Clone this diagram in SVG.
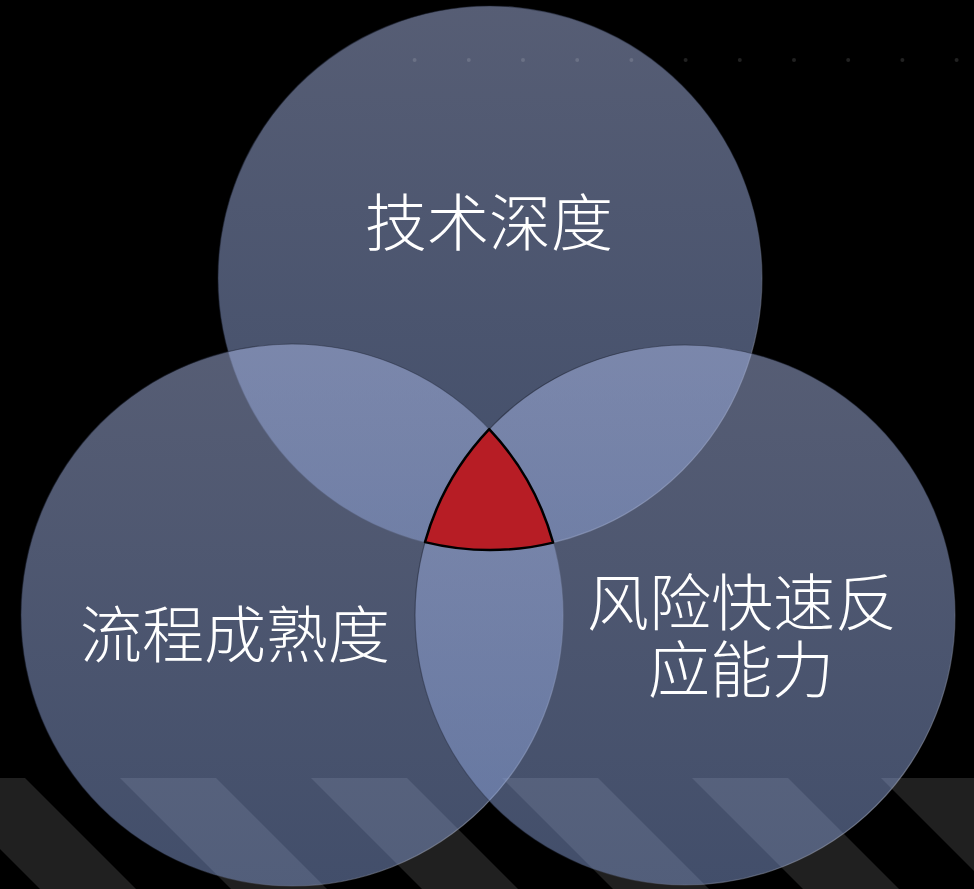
<svg xmlns="http://www.w3.org/2000/svg" width="974" height="889" viewBox="0 0 974 889">
  <defs>
    <linearGradient id="cfill" x1="0" y1="0" x2="0" y2="1">
      <stop offset="0" stop-color="rgb(172,186,232)"/>
      <stop offset="1" stop-color="rgb(132,156,212)"/>
    </linearGradient>
    <linearGradient id="cstroke" x1="0" y1="0" x2="1" y2="1">
      <stop offset="0" stop-color="rgb(20,24,36)" stop-opacity="0.6"/>
      <stop offset="0.6" stop-color="rgb(40,48,70)" stop-opacity="0.3"/>
      <stop offset="1" stop-color="rgb(230,235,250)" stop-opacity="0.7"/>
    </linearGradient>
    <polygon id="stripe" points="0,778 96,778 207,889 111,889"/>
  </defs>
  <style>
    .bg { fill: #000000; }
    .stripe { fill: #202020; }
    .circle { fill: url(#cfill); fill-opacity: 0.5; stroke: url(#cstroke); stroke-width: 1.2; }
    .dot { fill: #ffffff; fill-opacity: 0.13; }
    .label { font-family: "Noto Sans CJK SC", "Noto Sans CJK TC", sans-serif; font-weight: 300; font-size: 62px; fill: #ffffff; text-anchor: middle; }
    .core { fill: #b71d25; stroke: #000000; stroke-width: 2.5; stroke-linejoin: round; }
  </style>

  <rect class="bg" x="0" y="0" width="974" height="889"/>

  <g id="stripes">
    <use href="#stripe" class="stripe" x="-71"/>
    <use href="#stripe" class="stripe" x="120"/>
    <use href="#stripe" class="stripe" x="311"/>
    <use href="#stripe" class="stripe" x="502"/>
    <use href="#stripe" class="stripe" x="692"/>
    <use href="#stripe" class="stripe" x="881"/>
  </g>

  <g id="node-tech">
    <circle class="circle" cx="490" cy="278" r="272"/>
  </g>
  <g id="node-process">
    <circle class="circle" cx="292" cy="615" r="271"/>
  </g>
  <g id="node-risk">
    <circle class="circle" cx="685" cy="615" r="270"/>
  </g>

  <g id="dots">
    <circle class="dot" cx="414.6" cy="60" r="2"/>
    <circle class="dot" cx="468.8" cy="60" r="2"/>
    <circle class="dot" cx="523" cy="60" r="2"/>
    <circle class="dot" cx="577.2" cy="60" r="2"/>
    <circle class="dot" cx="631.4" cy="60" r="2"/>
    <circle class="dot" cx="685.6" cy="60" r="2"/>
    <circle class="dot" cx="739.8" cy="60" r="2"/>
    <circle class="dot" cx="794" cy="60" r="2"/>
    <circle class="dot" cx="848.2" cy="60" r="2"/>
    <circle class="dot" cx="902.4" cy="60" r="2"/>
    <circle class="dot" cx="956.6" cy="60" r="2"/>
  </g>

  <g id="node-core">
    <path class="core" d="M489.2 429.1 A270 270 0 0 0 425 542.1 A272 272 0 0 0 553.1 542.6 A271 271 0 0 0 489.2 429.1 Z"/>
  </g>

  <g id="labels">
    <text class="label" x="489" y="246">技术深度</text>
    <text class="label" x="235" y="658">流程成熟度</text>
    <text class="label" x="742" y="626"><tspan x="742" y="626">风险快速反</tspan><tspan x="741" y="693">应能力</tspan></text>
  </g>
</svg>
